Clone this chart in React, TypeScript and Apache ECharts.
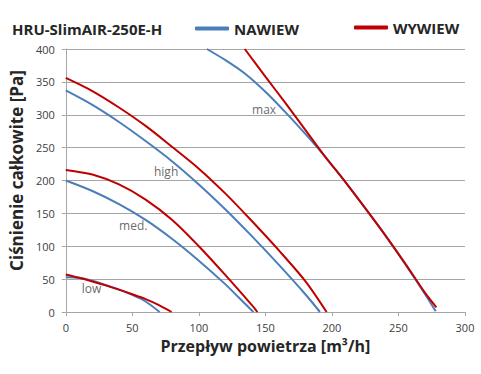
import React, { useEffect, useRef } from "react";
import * as echarts from "echarts";

const xTicks = [0, 50, 100, 150, 200, 250, 300];
const yTicks = [0, 50, 100, 150, 200, 250, 300, 350, 400];

const lowNawiew = [[0, 53], [10, 52], [20, 47.5], [30, 41], [40, 34], [50, 26], [60, 16], [70.5, 0]];
const lowWywiew = [[0, 57], [10, 52], [20, 46.5], [30, 40.5], [40, 34], [50, 27], [60, 19.5], [70, 10.5], [79.5, 0]];
const medNawiew = [[0, 200], [20, 184], [40, 164], [60, 140], [80, 111], [100, 78], [120, 42], [130, 22], [141, 0]];
const medWywiew = [[0, 216], [20, 209], [40, 194], [60, 171], [80, 140], [100, 100], [120, 56], [140, 10], [144, 0]];
const highNawiew = [[0, 337], [20, 315], [40, 289], [60, 260], [80, 229], [100, 194], [120, 156], [140, 115], [160, 72], [180, 27], [191, 0]];
const highWywiew = [[0, 356], [20, 336], [40, 311], [60, 283], [80, 251], [100, 218], [120, 180], [140, 138], [160, 94], [180, 47], [196, 0]];
const maxNawiew = [[106, 400], [120, 383], [135, 362], [150, 335], [165, 304], [180, 271], [195, 236], [210, 198], [225, 158], [240, 117], [255, 73], [270, 27], [278, 1]];
const maxWywiew = [[134.5, 400], [150, 358], [165, 318], [180, 277], [195, 236], [210, 198], [225, 158], [240, 117], [255, 74], [270, 29], [278.5, 7]];

const speedLabels = ["max", "high", "med.", "low"];
const speedLabelPos = [[149, 308], [75.4, 213], [50.7, 131], [19.4, 36]];

const BLUE = "#4A7EBB";
const RED = "#C00000";
const FONT = "'Open Sans', 'Noto Sans', sans-serif";
const DARK = "#262626";

export default function App() {
  const ref = useRef<HTMLDivElement>(null);
  useEffect(() => {
    if (!ref.current) return;
    const chart = echarts.init(ref.current, undefined, { renderer: "svg" });
    const line = (name: string, data: number[][], color: string) => ({
      type: "line",
      name,
      data,
      smooth: 0.3,
      symbol: "none",
      lineStyle: { color, width: 2 },
      itemStyle: { color },
      z: color === RED ? 3 : 2,
    });
    const legendText = { fontSize: 15, fontWeight: "bold", color: DARK, fontFamily: FONT };
    chart.setOption({
      animation: false,
      textStyle: { fontFamily: FONT },
      title: {
        text: "HRU-SlimAIR-250E-H",
        left: 7,
        top: 16,
        textStyle: { fontSize: 15, fontWeight: "bold", color: DARK, fontFamily: FONT },
      },
      legend: [
        {
          data: ["NAWIEW"],
          left: 190,
          top: 16,
          icon: "roundRect",
          itemWidth: 34,
          itemHeight: 4,
          itemGap: 6,
          textStyle: legendText,
        },
        {
          data: ["WYWIEW"],
          left: 349,
          top: 15,
          icon: "roundRect",
          itemWidth: 34,
          itemHeight: 4,
          textStyle: legendText,
        },
      ],
      grid: { left: 63, right: 16, top: 49, bottom: 62 },
      xAxis: {
        type: "value",
        min: xTicks[0],
        max: xTicks[xTicks.length - 1],
        interval: 50,
        name: "Przepływ powietrza [m³/h]",
        nameLocation: "middle",
        nameGap: 25,
        nameTextStyle: { fontSize: 16, fontWeight: "bold", color: DARK, fontFamily: FONT },
        axisLine: { lineStyle: { color: "#A6A6A6" } },
        axisTick: { show: true, length: 4, lineStyle: { color: "#A6A6A6" } },
        axisLabel: { color: "#404040", fontSize: 11, margin: 10 },
        splitLine: { show: false },
      },
      yAxis: {
        type: "value",
        min: yTicks[0],
        max: yTicks[yTicks.length - 1],
        interval: 50,
        name: "Ciśnienie całkowite [Pa]",
        nameLocation: "middle",
        nameGap: 30,
        nameTextStyle: { fontSize: 17, fontWeight: "bold", color: DARK, fontFamily: FONT, padding: [0, 0, 0, 20] },
        axisLine: { show: true, lineStyle: { color: "#A6A6A6" } },
        axisTick: { show: true, length: 4, lineStyle: { color: "#A6A6A6" } },
        axisLabel: { color: "#404040", fontSize: 11, margin: 11 },
        splitLine: { show: true, lineStyle: { color: "#A6A6A6", width: 1 } },
      },
      series: [
        line("NAWIEW", lowNawiew, BLUE),
        line("NAWIEW", medNawiew, BLUE),
        line("NAWIEW", highNawiew, BLUE),
        line("NAWIEW", maxNawiew, BLUE),
        line("WYWIEW", lowWywiew, RED),
        line("WYWIEW", medWywiew, RED),
        line("WYWIEW", highWywiew, RED),
        line("WYWIEW", maxWywiew, RED),
        {
          type: "scatter",
          name: "labels",
          symbolSize: 0,
          data: speedLabelPos.map((p, i) => ({ value: p, name: speedLabels[i] })),
          label: {
            show: true,
            position: "inside",
            formatter: (p: any) => p.name,
            color: "#404040",
            fontSize: 12,
            fontFamily: FONT,
          },
          silent: true,
          z: 5,
        },
      ],
    });
    return () => chart.dispose();
  }, []);
  return <div ref={ref} style={{ width: 481, height: 374, position: "absolute", left: 0, top: 0 }} />;
}
